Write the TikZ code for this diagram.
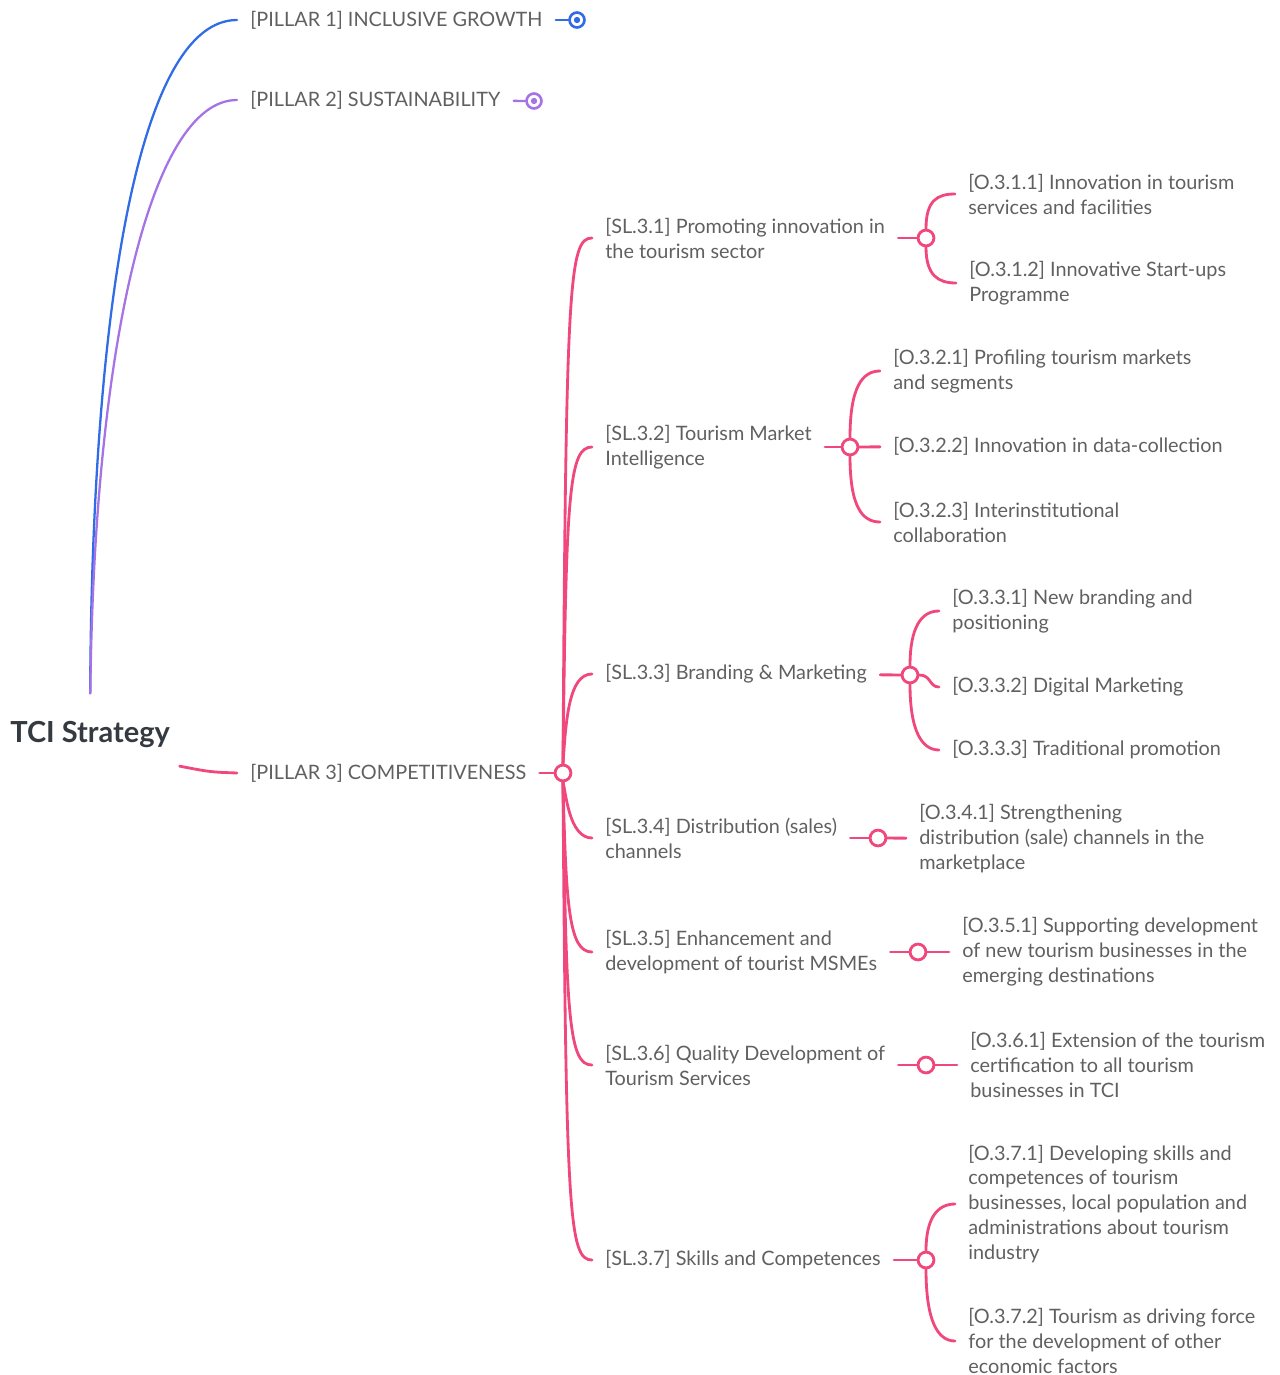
\documentclass[tikz,border=0pt]{standalone}
\usepackage{fontspec}
\setmainfont{Lato}
\usepackage{xcolor}
\usepackage{tikz}
\usetikzlibrary{positioning}

\definecolor{pinkC}{RGB}{240,72,124}
\definecolor{blueC}{RGB}{47,108,230}
\definecolor{purpC}{RGB}{165,115,230}
\definecolor{textC}{RGB}{96,96,96}
\definecolor{rootC}{RGB}{52,58,64}

\begin{document}
\begin{tikzpicture}[x=0.02cm, y=-0.02cm,
    every node/.style={font=\fontsize{11.3}{14.2}\selectfont, text=textC, align=left, anchor=west, inner xsep=7.4pt, inner ysep=2pt},
    branch/.style={draw=pinkC, line width=1.6pt, line cap=round},
    blueline/.style={draw=blueC, line width=1.3pt, line cap=round},
    purpline/.style={draw=purpC, line width=1.3pt, line cap=round},
    jun/.style={circle, draw=pinkC, line width=1.6pt, fill=white, inner sep=0pt, minimum size=9pt, anchor=center},
    fold/.style={circle, line width=1.5pt, fill=white, inner sep=0pt, minimum size=8.5pt, anchor=center}]
    \useasboundingbox (0,0) rectangle (1280,1375);

    % root and pillars
    \node[font=\fontsize{16.5}{18}\selectfont\bfseries, text=rootC] (root) at (-3,735) {TCI Strategy};
    \node (p1) at (237,20) {[PILLAR 1] INCLUSIVE GROWTH};
    \node (p2) at (237,100) {[PILLAR 2] SUSTAINABILITY};
    \node (p3) at (237,773) {[PILLAR 3] COMPETITIVENESS};
    \node[fold, draw=blueC] (f1) at (577,20) {};
    \node[fold, draw=purpC] (f2) at (534,101) {};
    \node[jun] (j3) at (563,773) {};

    % strategic lines
    \node (sl1) at (592,238) {[SL.3.1] Promoting innovation in\\the tourism sector};
    \node (sl2) at (592,447) {[SL.3.2] Tourism Market\\Intelligence};
    \node (sl3) at (592,674) {[SL.3.3] Branding \& Marketing};
    \node (sl4) at (592,838) {[SL.3.4] Distribution (sales)\\channels};
    \node (sl5) at (592,952) {[SL.3.5] Enhancement and\\development of tourist MSMEs};
    \node (sl6) at (592,1065) {[SL.3.6] Quality Development of\\Tourism Services};
    \node (sl7) at (592,1260) {[SL.3.7] Skills and Competences};

    \node[jun] (j31) at (926,238) {};
    \node[jun] (j32) at (850,447) {};
    \node[jun] (j33) at (910,675) {};
    \node[jun] (j34) at (878,838) {};
    \node[jun] (j35) at (918,952) {};
    \node[jun] (j36) at (926,1065) {};
    \node[jun] (j37) at (926,1260) {};

    % objectives
    \node (o11) at (955,194) {[O.3.1.1] Innovation in tourism\\services and facilities};
    \node (o12) at (956,283) {[O.3.1.2] Innovative Start-ups\\Programme};
    \node (o21) at (880,371) {[O.3.2.1] Profiling tourism markets\\and segments};
    \node (o22) at (880,446) {[O.3.2.2] Innovation in data-collection};
    \node (o23) at (880,522) {[O.3.2.3] Interinstitutional\\collaboration};
    \node (o31) at (939,611) {[O.3.3.1] New branding and\\positioning};
    \node (o32) at (939,687) {[O.3.3.2] Digital Marketing};
    \node (o33) at (939,750) {[O.3.3.3] Traditional promotion};
    \node (o41) at (906,839) {[O.3.4.1] Strengthening\\distribution (sale) channels in the\\marketplace};
    \node (o51) at (949,952) {[O.3.5.1] Supporting development\\of new tourism businesses in the\\emerging destinations};
    \node (o61) at (957,1065) {[O.3.6.1] Extension of the tourism\\certification to all tourism\\businesses in TCI};
    \node (o71) at (955,1204) {[O.3.7.1] Developing skills and\\competences of tourism\\businesses, local population and\\administrations about tourism\\industry};
    \node (o72) at (955,1341) {[O.3.7.2] Tourism as driving force\\for the development of other\\economic factors};

    % root connectors
    \draw[blueline, shorten <=14pt] (root.north) .. controls (92,300) and (140,20) .. (p1.west);
    \draw[purpline, shorten <=14pt] (root.north) .. controls (94,350) and (150,100) .. (p2.west);
    \draw[branch] ([shift={(-2pt,-8pt)}]root.south east) .. controls (210,772) .. (p3.west);
    \draw[blueline] (p1) -- (f1);
    \draw[purpline] (p2) -- (f2);
    \fill[blueC] (f1) circle (1.8pt);
    \fill[purpC] (f2) circle (1.8pt);
    \draw[branch] (p3) -- (j3);

    % pillar 3 to strategic lines
    \foreach \n/\y in {sl1/238, sl2/447, sl3/674}
      \draw[branch] (j3.north) .. controls (566,\y+45) and (569,\y) .. (\n.west);
    \foreach \n/\y in {sl4/838, sl5/952, sl6/1065, sl7/1260}
      \draw[branch] (j3.south) .. controls (566,\y-45) and (569,\y) .. (\n.west);

    % strategic lines to objectives
    \foreach \s/\j in {sl1/j31, sl2/j32, sl3/j33, sl4/j34, sl5/j35, sl6/j36, sl7/j37}
      \draw[branch] (\s) -- (\j);
    \draw[branch] (j31.north) .. controls +(0,-28) and +(-18,0) .. (o11.west);
    \draw[branch] (j31.south) .. controls +(0,28) and +(-18,0) .. (o12.west);
    \draw[branch] (j32.north) .. controls +(0,-50) and +(-18,0) .. (o21.west);
    \draw[branch] (j32) -- (o22);
    \draw[branch] (j32.south) .. controls +(0,50) and +(-18,0) .. (o23.west);
    \draw[branch] (j33.north) .. controls +(0,-38) and +(-18,0) .. (o31.west);
    \draw[branch] (j33.east) .. controls +(12,0) and +(-10,0) .. (o32.west);
    \draw[branch] (j33.south) .. controls +(0,45) and +(-18,0) .. (o33.west);
    \draw[branch] (j34) -- (o41);
    \draw[branch] (j35) -- (o51);
    \draw[branch] (j36) -- (o61);
    \draw[branch] (j37.north) .. controls +(0,-32) and +(-18,0) .. (o71.west);
    \draw[branch] (j37.south) .. controls +(0,50) and +(-18,0) .. (o72.west);
  \end{tikzpicture}
\end{document}
